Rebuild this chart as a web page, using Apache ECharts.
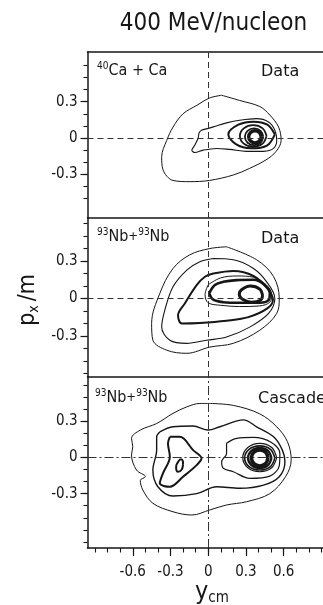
<!DOCTYPE html>
<html><head><meta charset="utf-8">
<script src="https://cdn.jsdelivr.net/npm/echarts@6/dist/echarts.min.js"></script>
<style>html,body{margin:0;padding:0;background:#fff}#c{width:323px;height:605px}</style>
</head><body><div id="c"></div>
<script>
// ---------- tick values ----------
const xMajorTicks = [-0.6, -0.3, 0, 0.3, 0.6];
const xMinorTicks = [-0.9,-0.8,-0.7,-0.6,-0.5,-0.4,-0.3,-0.2,-0.1,0,0.1,0.2,0.3,0.4,0.5,0.6,0.7,0.8,0.9];
const yMajorTicks = [-0.3, 0, 0.3];
const yMinorTicks1 = [-0.5,-0.4,-0.3,-0.2,-0.1,0,0.1,0.2,0.3,0.4,0.5,0.6];
const yMinorTicks2 = [-0.6,-0.5,-0.4,-0.3,-0.2,-0.1,0,0.1,0.2,0.3,0.4,0.5,0.6];
const yMinorTicks3 = [-0.7,-0.6,-0.5,-0.4,-0.3,-0.2,-0.1,0,0.1,0.2,0.3,0.4,0.5,0.6];
const xRange = [-0.96, 0.913];
const yRange1 = [-0.66, 0.71];
const yRange2 = [-0.63, 0.645];
const yRange3 = [-0.75, 0.665];

// ---------- panel 1: 40Ca + Ca, data (contour lines, [y_cm, px/m]) ----------
const ca_c1 = [[0.107,0.353],[0.25,0.31],[0.41,0.26],[0.49,0.19],[0.56,0.09],[0.58,-0.02],[0.54,-0.11],[0.46,-0.18],[0.33,-0.25],[0.2,-0.305],[0.01,-0.35],[-0.146,-0.36],[-0.28,-0.35],[-0.36,-0.26],[-0.37,-0.155],[-0.33,-0.02],[-0.28,0.09],[-0.2,0.2],[-0.09,0.27],[0.01,0.33],[0.107,0.353]];
const ca_c2 = [[-0.053,0.065],[0.04,0.092],[0.146,0.125],[0.25,0.147],[0.385,0.16],[0.48,0.133],[0.53,0.065],[0.545,-0.017],[0.52,-0.086],[0.44,-0.11],[0.305,-0.11],[0.17,-0.094],[0.067,-0.086],[-0.04,-0.1],[-0.106,-0.12],[-0.13,-0.1],[-0.106,-0.058],[-0.08,0],[-0.072,0.043],[-0.053,0.065]];
const ca_c3 = [[0.53,0.03],[0.47,0.11],[0.36,0.135],[0.24,0.11],[0.16,0.03],[0.22,-0.05],[0.34,-0.085],[0.47,-0.06],[0.53,0.03]];
const ca_c4 = [[0.464,0.017],[0.433,0.08],[0.358,0.106],[0.283,0.08],[0.252,0.017],[0.283,-0.046],[0.358,-0.072],[0.433,-0.046],[0.464,0.017]];
const ca_c5 = [[0.438,0.01],[0.417,0.059],[0.365,0.079],[0.313,0.059],[0.292,0.01],[0.313,-0.039],[0.365,-0.059],[0.417,-0.039],[0.438,0.01]];
const ca_c6 = [[0.422,0.01],[0.407,0.045],[0.372,0.06],[0.337,0.045],[0.322,0.01],[0.337,-0.025],[0.372,-0.04],[0.407,-0.025],[0.422,0.01]];

// ---------- panel 2: 93Nb + 93Nb, data ----------
const nb_c1 = [[0.146,0.414],[0.385,0.31],[0.52,0.175],[0.565,0],[0.545,-0.12],[0.41,-0.255],[0.2,-0.36],[0.013,-0.39],[-0.17,-0.44],[-0.33,-0.415],[-0.44,-0.335],[-0.45,-0.2],[-0.385,0.04],[-0.28,0.24],[-0.146,0.35],[0.013,0.40],[0.146,0.414]];
const nb_c2 = [[0.04,0.32],[0.2,0.31],[0.36,0.24],[0.465,0.133],[0.53,0],[0.48,-0.12],[0.33,-0.23],[0.146,-0.31],[-0.013,-0.335],[-0.17,-0.36],[-0.305,-0.335],[-0.37,-0.23],[-0.345,-0.094],[-0.28,0.093],[-0.17,0.227],[-0.066,0.294],[0.04,0.32]];
const nb_c3 = [[0.04,0.2],[0.2,0.22],[0.36,0.18],[0.47,0.08],[0.515,-0.01],[0.47,-0.08],[0.32,-0.15],[0.146,-0.178],[-0.066,-0.196],[-0.21,-0.2],[-0.24,-0.134],[-0.186,-0.04],[-0.092,0.107],[-0.026,0.174],[0.04,0.2]];
const nb_c4 = [[0.0,0.11],[0.1,0.165],[0.23,0.18],[0.36,0.17],[0.46,0.11],[0.505,0.03],[0.49,-0.03],[0.41,-0.06],[0.25,-0.065],[0.1,-0.055],[0.0,-0.035],[-0.025,0.03],[0.0,0.11]];
const nb_c5 = [[0.008,0.04],[0.053,0.107],[0.12,0.133],[0.226,0.147],[0.36,0.15],[0.45,0.107],[0.49,0.04],[0.48,-0.014],[0.41,-0.035],[0.25,-0.035],[0.12,-0.03],[0.04,-0.01],[0.008,0.04]];
const nb_c6 = [[0.433,0.02],[0.41,0.075],[0.335,0.10],[0.265,0.07],[0.247,0.035],[0.27,-0.005],[0.345,-0.03],[0.415,-0.015],[0.433,0.02]];

// ---------- panel 3: 93Nb + 93Nb, cascade ----------
const cs_c1 = [[0.013,0.446],[0.2,0.43],[0.41,0.36],[0.545,0.253],[0.63,0.13],[0.66,-0.02],[0.615,-0.16],[0.49,-0.3],[0.305,-0.367],[0.146,-0.394],[0.013,-0.435],[-0.13,-0.477],[-0.28,-0.45],[-0.44,-0.38],[-0.52,-0.27],[-0.54,-0.19],[-0.5,-0.16],[-0.57,-0.105],[-0.61,0.02],[-0.6,0.088],[-0.61,0.157],[-0.54,0.226],[-0.41,0.28],[-0.28,0.364],[-0.17,0.418],[-0.066,0.446],[0.013,0.446]];
const cs_c2 = [[-0.385,0.21],[-0.28,0.253],[-0.12,0.259],[0,0.226],[0.093,0.253],[0.28,0.31],[0.385,0.253],[0.52,0.17],[0.59,0.06],[0.61,-0.036],[0.565,-0.16],[0.44,-0.23],[0.25,-0.256],[0.067,-0.243],[-0.092,-0.3],[-0.28,-0.32],[-0.4,-0.243],[-0.44,-0.105],[-0.41,0.06],[-0.41,0.17],[-0.385,0.21]];
const cs_left3 = [[-0.305,0.17],[-0.225,0.17],[-0.12,0.06],[-0.053,-0.008],[-0.092,-0.064],[-0.2,-0.16],[-0.305,-0.243],[-0.385,-0.215],[-0.36,-0.132],[-0.305,0.005],[-0.32,0.116],[-0.305,0.17]];
const cs_left4 = [[-0.2,-0.06],[-0.202,-0.03],[-0.215,-0.015],[-0.235,-0.03],[-0.255,-0.075],[-0.253,-0.105],[-0.24,-0.12],[-0.21,-0.1],[-0.2,-0.06]];
const cs_right3 = [[0.146,0.116],[0.226,0.157],[0.358,0.165],[0.5,0.125],[0.57,0.03],[0.565,-0.07],[0.49,-0.155],[0.33,-0.174],[0.2,-0.119],[0.12,-0.09],[0.107,-0.036],[0.146,0.033],[0.146,0.116]];
const cs_right4 = [[0.545,-0.002],[0.505,0.082],[0.41,0.116],[0.315,0.082],[0.275,-0.002],[0.315,-0.086],[0.41,-0.119],[0.505,-0.086],[0.545,-0.002]];
const cs_right5 = [[0.53,-0.005],[0.495,0.066],[0.41,0.095],[0.325,0.066],[0.29,-0.005],[0.325,-0.076],[0.41,-0.105],[0.495,-0.076],[0.53,-0.005]];
const cs_right6 = [[0.503,-0.005],[0.476,0.054],[0.41,0.078],[0.344,0.054],[0.317,-0.005],[0.344,-0.064],[0.41,-0.088],[0.476,-0.064],[0.503,-0.005]];
const cs_right7 = [[0.476,-0.005],[0.457,0.042],[0.41,0.061],[0.363,0.042],[0.344,-0.005],[0.363,-0.052],[0.41,-0.071],[0.457,-0.052],[0.476,-0.005]];

// ---------- layout / style ----------
const INK = '#161616';
const FF = "'DejaVu Sans Condensed','DejaVu Sans',sans-serif";
const FF2 = "'DejaVu Sans',sans-serif";
const grids = [
  {left: 87.5, right: 0, top: 52, height: 166},
  {left: 87.5, right: 0, top: 218, height: 159},
  {left: 87.5, right: 0, top: 377, height: 171}
];
const yRanges = [yRange1, yRange2, yRange3];
const yMinor = [yMinorTicks1, yMinorTicks2, yMinorTicks3];

const panels = [
  {lines: [ca_c1, ca_c2, ca_c3, ca_c4, ca_c5, ca_c6], widths: [1, 1.1, 2, 1.8, 1.8, 3.4], dash: [6,4]},
  {lines: [nb_c1, nb_c2, nb_c3, nb_c4, nb_c5, nb_c6], widths: [1, 1.1, 2, 1, 2.6, 3], dash: [6,4]},
  {lines: [cs_c1, cs_c2, cs_left3, cs_left4, cs_right3, cs_right4, cs_right5, cs_right6, cs_right7], widths: [1, 1.4, 2, 2, 1.2, 1.2, 1.6, 2.4, 3.6], dash: [9,3,2,3]}
];

const xAxes = [], yAxes = [];
for (let i = 0; i < 3; i++) {
  xAxes.push({gridIndex: i, type: 'value', min: xRange[0], max: xRange[1],
    axisLine: {show: true, onZero: false, lineStyle: {color: INK, width: 1.5}},
    axisTick: i === 2 ? {show: true, length: 8, customValues: xMajorTicks, lineStyle: {color: INK, width: 1.2}} : {show: false},
    axisLabel: i === 2 ? {show: true, customValues: xMajorTicks, margin: 17, fontSize: 15, color: INK, fontFamily: FF} : {show: false},
    splitLine: {show: false}});
}
xAxes.push({gridIndex: 2, type: 'value', min: xRange[0], max: xRange[1], position: 'bottom',
  axisLine: {show: false, onZero: false}, axisTick: {show: true, length: 4.5, customValues: xMinorTicks, lineStyle: {color: INK, width: 1.1}},
  axisLabel: {show: false}, splitLine: {show: false}});
xAxes.push({gridIndex: 0, type: 'value', min: xRange[0], max: xRange[1], position: 'top',
  axisLine: {show: true, onZero: false, lineStyle: {color: INK, width: 1.5}}, axisTick: {show: false}, axisLabel: {show: false}, splitLine: {show: false}});

for (let i = 0; i < 3; i++) {
  yAxes.push({gridIndex: i, type: 'value', min: yRanges[i][0], max: yRanges[i][1], position: 'left',
    axisLine: {show: true, onZero: false, lineStyle: {color: INK, width: 1.5}},
    axisTick: {show: true, length: 7, customValues: yMajorTicks, lineStyle: {color: INK, width: 1.2}},
    axisLabel: {show: true, customValues: yMajorTicks, margin: 10, fontSize: 15, color: INK, fontFamily: FF},
    splitLine: {show: false}});
}
for (let i = 0; i < 3; i++) {
  yAxes.push({gridIndex: i, type: 'value', min: yRanges[i][0], max: yRanges[i][1], position: 'left',
    axisLine: {show: false, onZero: false},
    axisTick: {show: true, length: 4, customValues: yMinor[i], lineStyle: {color: INK, width: 1.1}},
    axisLabel: {show: false}, splitLine: {show: false}});
}

const series = [];
panels.forEach((p, i) => {
  p.lines.forEach((d, k) => {
    const s = {type: 'line', xAxisIndex: i, yAxisIndex: i, data: d, smooth: 0.35, symbol: 'none',
      silent: true, lineStyle: {color: INK, width: p.widths[k]}};
    if (k === 0) {
      s.markLine = {symbol: 'none', silent: true, label: {show: false}, animation: false,
        lineStyle: {type: p.dash, color: '#333', width: 1},
        data: [{xAxis: 0}, {yAxis: 0}]};
    }
    series.push(s);
  });
});

const sup = {fontSize: 10, lineHeight: 12, verticalAlign: 'top', fontFamily: FF, fill: INK};
const nrm = {fontSize: 16, lineHeight: 20, fontFamily: FF, fill: INK};
const plus = {fontSize: 13, lineHeight: 16, verticalAlign: 'middle', fontFamily: FF, fill: INK};

const graphic = [
  {type: 'text', x: 213.5, y: 24, style: {text: '400 MeV/nucleon', font: "24px " + FF, fill: INK, align: 'center', verticalAlign: 'middle'}},
  {type: 'text', x: 97, y: 71, style: {text: '{s|40}{n|Ca + Ca}', rich: {s: sup, n: nrm}, align: 'left', verticalAlign: 'middle'}},
  {type: 'text', x: 261, y: 72, style: {text: 'Data', font: "16px " + FF2, fill: INK, align: 'left', verticalAlign: 'middle'}},
  {type: 'text', x: 97, y: 237, style: {text: '{s|93}{n|Nb}{p|+}{s|93}{n|Nb}', rich: {s: sup, n: nrm, p: plus}, align: 'left', verticalAlign: 'middle'}},
  {type: 'text', x: 261, y: 239, style: {text: 'Data', font: "16px " + FF2, fill: INK, align: 'left', verticalAlign: 'middle'}},
  {type: 'text', x: 95, y: 398, style: {text: '{s|93}{n|Nb}{p|+}{s|93}{n|Nb}', rich: {s: sup, n: nrm, p: plus}, align: 'left', verticalAlign: 'middle'}},
  {type: 'text', x: 258, y: 399, style: {text: 'Cascade', font: "16px " + FF2, fill: INK, align: 'left', verticalAlign: 'middle'}},
  {type: 'text', x: 28, y: 300, rotation: Math.PI / 2, style: {text: '{a|p}{b|x }{a|/m}',
    rich: {a: {fontSize: 23, lineHeight: 26, fontFamily: FF, fill: INK}, b: {fontSize: 14, lineHeight: 11, verticalAlign: 'bottom', fontFamily: FF, fill: INK}},
    align: 'center', verticalAlign: 'middle'}},
  {type: 'text', x: 212, y: 592, style: {text: '{a|y}{b|cm}',
    rich: {a: {fontSize: 25, lineHeight: 28, fontFamily: FF, fill: INK}, b: {fontSize: 15, lineHeight: 12, verticalAlign: 'bottom', fontFamily: FF, fill: INK}},
    align: 'center', verticalAlign: 'middle'}}
];

const chart = echarts.init(document.getElementById('c'), null, {renderer: 'canvas'});
chart.setOption({
  backgroundColor: '#fff',
  animation: false,
  grid: grids,
  xAxis: xAxes,
  yAxis: yAxes,
  series: series,
  graphic: graphic
});
</script></body></html>
